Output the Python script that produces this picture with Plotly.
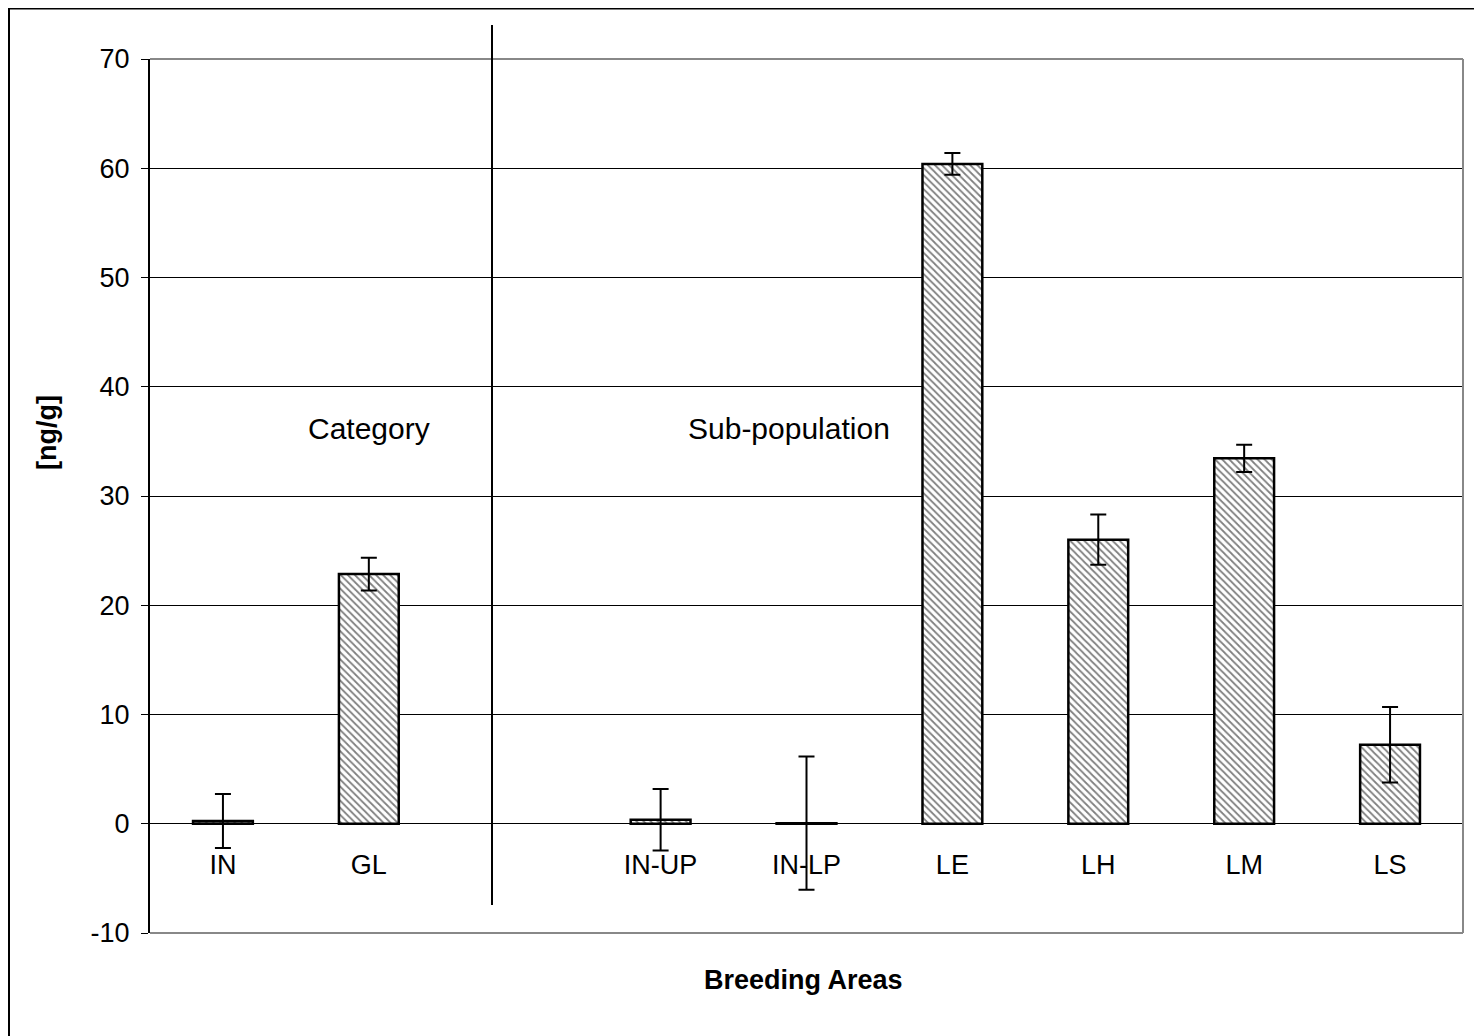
import plotly.graph_objects as go

categories = ["IN", "GL", " ", "IN-UP", "IN-LP", "LE", "LH", "LM", "LS"]
values = [0.25, 22.85, None, 0.37, 0.05, 60.4, 26.0, 33.45, 7.23]
errors = [2.47, 1.5, None, 2.81, 6.1, 1.0, 2.3, 1.25, 3.45]
y_ticks = [-10, 0, 10, 20, 30, 40, 50, 60, 70]
y_tick_labels = [str(v) for v in y_ticks]

# The page body adds an 8px offset; work in screen coordinates and convert.
OFF = 8
FW, FH = 1474, 1028
SL, ST, SR, SB = 150, 59, 1463, 933  # plot area in screen pixels
L, T = SL - OFF, ST - OFF
R, B = FW - (SR - OFF), FH - (SB - OFF)
pw, ph = SR - SL, SB - ST


def px(x):
    return (x - SL) / pw


def py(y):
    return (SB - y) / ph


FONT = "Liberation Sans, Arial, sans-serif"

fig = go.Figure()
fig.add_trace(go.Bar(
    x=categories, y=values, width=0.41,
    marker=dict(color="white", line=dict(color="black", width=2.5),
                pattern=dict(shape="\\", fgcolor="black", bgcolor="white", size=5, solidity=0.35)),
    error_y=dict(type="data", array=errors, visible=True, color="black", thickness=2, width=8),
    showlegend=False,
))

fig.update_layout(
    width=FW, height=FH,
    margin=dict(l=L, r=R, t=T, b=B),
    paper_bgcolor="white", plot_bgcolor="white",
    font=dict(family=FONT, size=27, color="black"),
    xaxis=dict(type="category", showgrid=False, showline=False, ticks="",
               anchor="free", position=0.125, ticklabelstandoff=22,
               tickfont=dict(size=27), range=[-0.5, 8.5], fixedrange=True),
    yaxis=dict(range=[-10, 70], tickvals=y_ticks, ticktext=y_tick_labels,
               showgrid=True, gridcolor="black", gridwidth=1,
               zeroline=True, zerolinecolor="black", zerolinewidth=1,
               showline=True, linecolor="black", linewidth=2,
               ticks="outside", ticklen=7, tickcolor="black", tickwidth=1,
               ticklabelstandoff=6, tickfont=dict(size=27)),
    shapes=[
        # plot area border (gray)
        dict(type="line", xref="paper", yref="paper", x0=0, x1=1, y0=1, y1=1, line=dict(color="#888888", width=2)),
        dict(type="line", xref="paper", yref="paper", x0=1, x1=1, y0=0, y1=1, line=dict(color="#888888", width=2)),
        dict(type="line", xref="paper", yref="paper", x0=0, x1=1, y0=0, y1=0, line=dict(color="#888888", width=2)),
        # outer chart border
        dict(type="rect", xref="paper", yref="paper", x0=px(9), x1=px(1500), y0=py(8.5), y1=py(1060),
             line=dict(color="black", width=2)),
        # separator line
        dict(type="line", xref="paper", yref="paper", x0=px(492), x1=px(492), y0=py(25), y1=py(905),
             line=dict(color="black", width=2)),
    ],
    annotations=[
        dict(text="Category", x=1, y=36.2, xref="x", yref="y", showarrow=False,
             xanchor="center", yanchor="middle", font=dict(size=30)),
        dict(text="Sub-population", x=3.88, y=36.2, xref="x", yref="y", showarrow=False,
             xanchor="center", yanchor="middle", font=dict(size=30)),
        dict(text="<b>Breeding Areas</b>", x=px(803), y=py(980), xref="paper", yref="paper",
             xanchor="center", yanchor="middle", showarrow=False, font=dict(size=27)),
        dict(text="<b>[ng/g]</b>", x=px(47), y=py(432), xref="paper", yref="paper",
             xanchor="center", yanchor="middle",
             showarrow=False, textangle=-90, font=dict(size=27)),
    ],
)

fig.write_html("out.html")
